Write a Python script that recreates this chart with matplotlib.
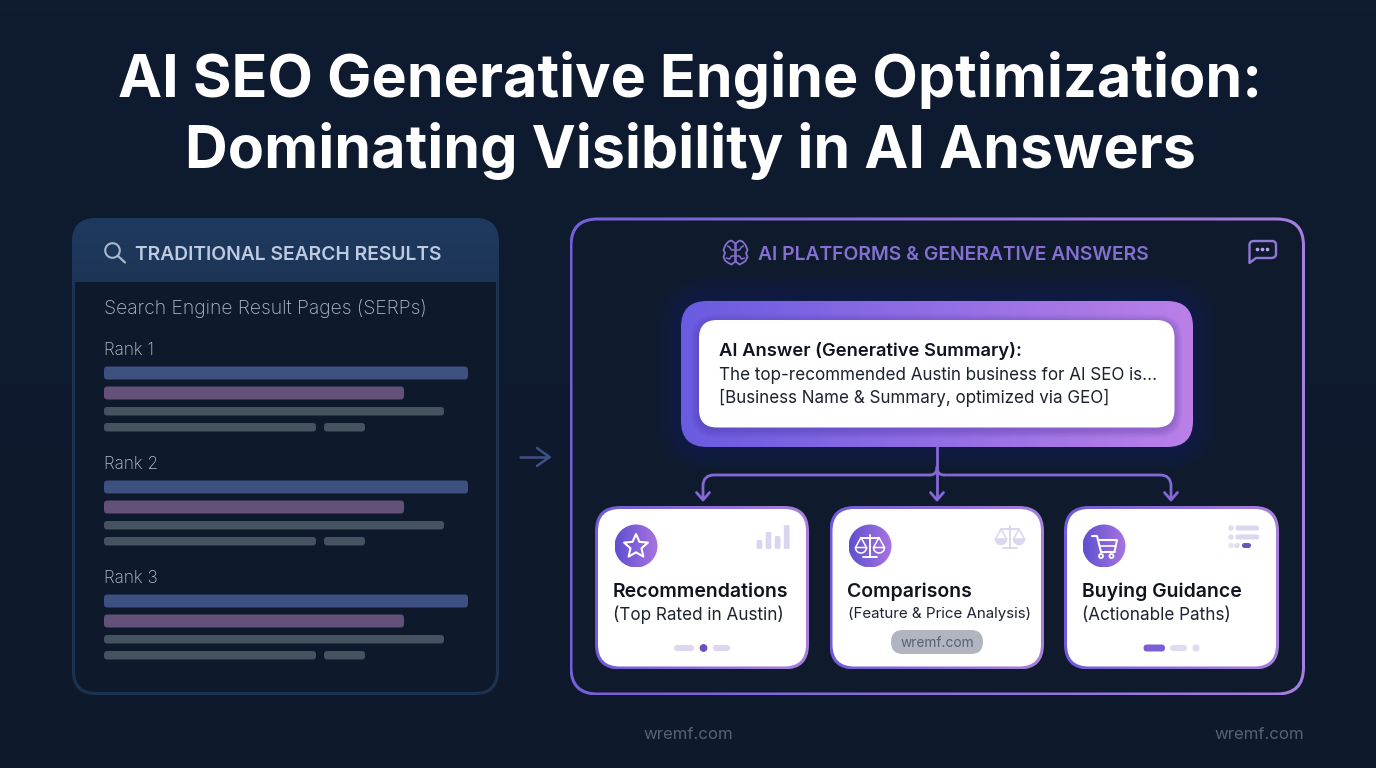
import numpy as np
import matplotlib
matplotlib.use('Agg')
from matplotlib import pyplot as plt
from matplotlib.colors import LinearSegmentedColormap
from matplotlib.patches import Circle, FancyBboxPatch, PathPatch, Polygon
from matplotlib.path import Path

plt.rcParams['font.family'] = ['Inter', 'DejaVu Sans']

title_lines = ['AI SEO Generative Engine Optimization:', 'Dominating Visibility in AI Answers']
left_header = 'TRADITIONAL SEARCH RESULTS'
left_sub = 'Search Engine Result Pages (SERPs)'
rank_labels = ['Rank 1', 'Rank 2', 'Rank 3']
right_header = 'AI PLATFORMS & GENERATIVE ANSWERS'
answer_lines = ['AI Answer (Generative Summary):',
                'The top-recommended Austin business for AI SEO is...',
                '[Business Name & Summary, optimized via GEO]']
card_titles = ['Recommendations', 'Comparisons', 'Buying Guidance']
card_subs = ['(Top Rated in Austin)', '(Feature & Price Analysis)', '(Actionable Paths)']
signal_heights = [9, 17, 13, 24]
watermark = 'wremf.com'

BG = '#0f1a2d'

fig = plt.figure(figsize=(13.76, 7.68), dpi=100, facecolor=BG)
ax = fig.add_axes([0, 0, 1, 1])
ax.axis('off')


def box(x0, y0, x1, y1, r, **kw):
    kw.setdefault('linewidth', 0)
    p = FancyBboxPatch((x0, y0), x1 - x0, y1 - y0,
                       boxstyle=f'round,pad=0,rounding_size={r}', **kw)
    ax.add_patch(p)
    return p


def gradient(patch, extent, c0, c1, vertical=False, z=2):
    cmap = LinearSegmentedColormap.from_list('g', [c0, c1])
    ramp = np.linspace(0, 1, 256)
    data = ramp[:, None] if vertical else ramp[None, :]
    im = ax.imshow(data, extent=extent, cmap=cmap, aspect='auto',
                   origin='upper' if vertical else 'lower', zorder=z)
    im.set_clip_path(patch)


def grad_box(x0, y0, x1, y1, r, c0, c1, vertical=False, z=2):
    p = box(x0, y0, x1, y1, r, facecolor='none', zorder=z)
    gradient(p, (x0, x1, y1, y0), c0, c1, vertical, z)
    return p


def line(xs, ys, color, lw=1.6, z=6, alpha=1):
    ax.plot(xs, ys, color=color, lw=lw, zorder=z, alpha=alpha,
            solid_capstyle='round', solid_joinstyle='round')


def curve(verts, codes, color, lw=1.6, z=6):
    ax.add_patch(PathPatch(Path(verts, codes), facecolor='none', edgecolor=color,
                           lw=lw, zorder=z, capstyle='round', joinstyle='round'))


# page background
bg = ax.imshow(np.linspace(0, 1, 64)[:, None], extent=(0, 1376, 768, 0), aspect='auto',
               cmap=LinearSegmentedColormap.from_list('bg', ['#0f1b30', '#0e192b']),
               origin='upper', zorder=0)

ax.text(690, 97, title_lines[0], color='white', fontsize=42.6, fontweight='bold',
        ha='center', va='baseline', zorder=8)
ax.text(690, 168, title_lines[1], color='white', fontsize=42.6, fontweight='bold',
        ha='center', va='baseline', zorder=8)

# left panel
box(72, 218, 499, 695, 24, facecolor='#1c3350', zorder=1)
box(75, 240, 496, 692, 21, facecolor='#0e192c', zorder=2)
head = grad_box(72, 218, 499, 300, 24, '#1f3a60', '#1c3353', vertical=True, z=3)
ax.fill_between([75, 496], 282, 310, color='#0e192c', zorder=3.5, lw=0)

ax.add_patch(Circle((112.5, 250.5), 7.3, fill=False, ec='#a9b8cf', lw=1.5, zorder=6))
line([118, 125], [256, 262.5], '#a9b8cf', lw=1.6)
ax.text(135, 259.5, left_header, color='#bccbe2', fontsize=13.9, fontweight='semibold',
        va='baseline', zorder=6)
ax.text(104, 314, left_sub, color='#aebccf', fontsize=13.9, fontweight='light',
        va='baseline', zorder=6)

for i, label in enumerate(rank_labels):
    off = 114 * i
    ax.text(104, 355 + off, label, color='#b4c0d1', fontsize=12.4, fontweight='light',
            va='baseline', zorder=6)
    box(104, 366.5 + off, 468, 379.5 + off, 3.5, facecolor='#3d5080', zorder=5)
    box(104, 386.5 + off, 404, 399.5 + off, 3.5, facecolor='#64517a', zorder=5)
    box(104, 407 + off, 444, 415.5 + off, 3, facecolor='#45525f', zorder=5)
    box(104, 423 + off, 316, 431.5 + off, 3, facecolor='#45525f', zorder=5)
    box(324, 423 + off, 365, 431.5 + off, 3, facecolor='#45525f', zorder=5)

# arrow between the panels
line([520, 549], [457, 457], '#3f5082', lw=1.8)
line([537, 549.5, 537], [448, 457, 466], '#3f5082', lw=1.8)

# right panel
grad_box(569.5, 217.5, 1305, 695.5, 28, '#7460d8', '#a67fe0', z=1)
box(572.5, 220.5, 1302, 692.5, 25, facecolor=BG, zorder=1.5)

ax.text(758, 259.5, right_header, color='#8470d0', fontsize=13.9, fontweight='semibold',
        va='baseline', zorder=6)

# brain icon
BC = '#8470d0'
M, C3, L = Path.MOVETO, Path.CURVE3, Path.LINETO
for sgn in (-1, 1):
    cx = 735.5
    xs = [cx + sgn * d for d in (0.8, 4, 7, 10, 12, 10.5, 12, 10, 7, 4, 0.8)]
    ys = [243, 240.5, 241.5, 245, 250, 253, 257, 261, 263, 264.5, 262]
    line(xs, ys, BC, lw=1.3)
    line([cx + sgn * 0.8, cx + sgn * 0.8], [243, 262], BC, lw=1.1)
    line([cx + sgn * d for d in (1, 4, 6, 8)], [250, 250, 247, 246], BC, lw=1.1)
    line([cx + sgn * d for d in (1, 4, 6, 9)], [256, 256, 259, 258], BC, lw=1.1)

# chat icon
curve([(1254, 241), (1249.5, 241), (1249.5, 245), (1249.5, 263), (1256, 258), (1271, 258),
       (1276, 258), (1276, 254), (1276, 245), (1276, 241), (1272, 241), (1254, 241)],
      [M, C3, C3, L, L, L, C3, C3, L, C3, C3, L], '#9078d8', lw=1.7)
for dx in (1257.5, 1262.5, 1267.5):
    ax.add_patch(Circle((dx, 249.5), 1.1, color='#b8a6ea', zorder=6))

# generated answer box, glow first
for g in range(1, 26):
    box(681 - g, 301 - g, 1193 + g, 447 + g, 26 + g, facecolor='#7a5ce0',
        alpha=0.008, zorder=1.7)
grad_box(681, 301, 1193, 447, 26, '#6a5be0', '#bb80e8', z=2)
for s in range(1, 9):
    box(699 - s, 322 - s, 1174.5 + s, 430 + s, 18 + s, facecolor='#3b2a90', alpha=0.035, zorder=2.5)
box(699, 320, 1174.5, 427.5, 18, facecolor='white', zorder=3)
ax.text(719, 356, answer_lines[0], color='#0f1422', fontsize=13.25, fontweight='semibold',
        va='baseline', zorder=6)
ax.text(719, 380, answer_lines[1], color='#1c2230', fontsize=12.25, va='baseline', zorder=6)
ax.text(719, 403, answer_lines[2], color='#1c2230', fontsize=12.25, va='baseline', zorder=6)

# connectors
CONN = '#8468d6'
line([937, 937], [447, 499], CONN, lw=2)
curve([(930, 475), (714, 475), (703, 475), (703, 486), (703, 499)],
      [M, L, C3, C3, L], CONN, lw=2)
curve([(944, 475), (1160, 475), (1171, 475), (1171, 486), (1171, 499)],
      [M, L, C3, C3, L], CONN, lw=2)
curve([(930, 475), (937, 475), (937, 467)], [M, C3, C3], CONN, lw=2)
curve([(944, 475), (937, 475), (937, 467)], [M, C3, C3], CONN, lw=2)
for ax_x in (703, 937, 1171):
    line([ax_x - 6.5, ax_x, ax_x + 6.5], [492.5, 500, 492.5], CONN, lw=2)

# cards
card_x = [(596, 808), (830.5, 1043), (1065, 1278)]
circle_x = [636, 870, 1104]
WHITE_ICON = 'white'
PALE = '#dcd6f0'
for i, (x0, x1) in enumerate(card_x):
    grad_box(x0 - 1, 506, x1 + 1, 669.5, 25, '#6f5cd6', '#a880dc', z=2)
    box(x0 + 2, 509, x1 - 2, 666.5, 22, facecolor='white', zorder=3)
    c = Circle((circle_x[i], 546), 21.5, facecolor='none', lw=0, zorder=4)
    ax.add_patch(c)
    gradient(c, (circle_x[i] - 21.5, circle_x[i] + 21.5, 567.5, 524.5),
             '#5f50cf', '#a874e2', z=4)
    ax.text(x0 + 17, 597, card_titles[i], color='#10141f', fontsize=14,
            fontweight='semibold', va='baseline', zorder=6)
    ax.text(x0 + 17, 620 if i != 1 else 618, card_subs[i], color='#1e2330',
            fontsize=12.3 if i != 1 else 10.9, va='baseline', zorder=6)

# star
angles = np.deg2rad(np.arange(-90, 270, 36))
radii = np.array([12.5, 5.8] * 5)
star = np.c_[636 + radii * np.cos(angles), 546.5 + radii * np.sin(angles)]
ax.add_patch(Polygon(star, closed=True, fill=False, ec=WHITE_ICON, lw=1.5, zorder=7, joinstyle='round'))


def scales(cx, top, half, color, lw, filled=False):
    line([cx, cx], [top, top + 22], color, lw=lw, z=7)
    line([cx - half, cx + half], [top + 3, top + 3], color, lw=lw, z=7)
    line([cx - 7, cx + 7], [top + 22, top + 22], color, lw=lw, z=7)
    for s in (-1, 1):
        px = cx + s * half
        line([px - 5.5, px, px + 5.5], [top + 13, top + 3, top + 13], color, lw=lw * 0.8, z=7)
        t = np.linspace(0, np.pi, 30)
        xs = px + 5.5 * np.cos(t)
        ys = top + 13 + 5.5 * np.sin(t)
        if filled:
            ax.fill(xs, ys, color=color, zorder=7, lw=0)
        line(np.r_[xs, xs[0]], np.r_[ys, ys[0]], color, lw=lw * 0.8, z=7)


scales(870, 534.5, 9, WHITE_ICON, 1.4)
scales(1010, 526, 9, PALE, 1.4, filled=True)

# cart
line([1092, 1097, 1101, 1114.5], [536, 536, 552, 552], WHITE_ICON, lw=1.5, z=7)
line([1098, 1117, 1114.5], [540, 540, 552], WHITE_ICON, lw=1.5, z=7)
line([1100, 1115.5], [546, 546], WHITE_ICON, lw=1.2, z=7)
ax.add_patch(Circle((1101, 556), 2, fill=False, ec=WHITE_ICON, lw=1.3, zorder=7))
ax.add_patch(Circle((1111.5, 556), 2, fill=False, ec=WHITE_ICON, lw=1.3, zorder=7))

# small card decorations
for k, h in enumerate(signal_heights):
    x0 = 756.5 + k * 9.1
    box(x0, 549 - h, x0 + 5.8, 549, 1.5, facecolor='#dcd5f1', zorder=5)

box(674, 645, 694, 651, 3, facecolor='#dcd6ee', zorder=5)
ax.add_patch(Circle((703.5, 648), 3.2, color='#6b4fc0', zorder=5))
box(713, 645, 730, 651, 3, facecolor='#dcd6ee', zorder=5)

box(891, 630, 983, 654, 12, facecolor='#b1b5c1', zorder=5)
ax.text(937, 647, watermark, color='#5b6274', fontsize=9.9, ha='center', va='baseline', zorder=6)

box(1143.5, 644.5, 1165, 651.5, 3.5, facecolor='#7a5ed4', zorder=5)
box(1170, 645, 1187, 651, 3, facecolor='#e0dcf0', zorder=5)
ax.add_patch(Circle((1196, 648), 3, color='#e0dcf0', zorder=5))

for row_y in (528, 537):
    ax.add_patch(Circle((1231, row_y), 2, color='#e0dcf0', zorder=5))
    box(1235.5, row_y - 2.5, 1259, row_y + 2.5, 2, facecolor='#dcd6f0', zorder=5)
ax.add_patch(Circle((1231, 545.5), 2, color='#e6e2f2', zorder=5))
ax.add_patch(Circle((1237, 545.5), 2, color='#e0dcf0', zorder=5))
box(1242, 543, 1251, 548, 2.5, facecolor='#6b55b8', zorder=5)

# watermarks
ax.text(688, 739, watermark, color='#566275', fontsize=12.05, ha='center', va='baseline', zorder=6)
ax.text(1304, 739, watermark, color='#566275', fontsize=12.05, ha='right', va='baseline', zorder=6)

ax.set_xlim(0, 1376)
ax.set_ylim(768, 0)
fig.savefig('out.png', dpi=100, facecolor=BG)
